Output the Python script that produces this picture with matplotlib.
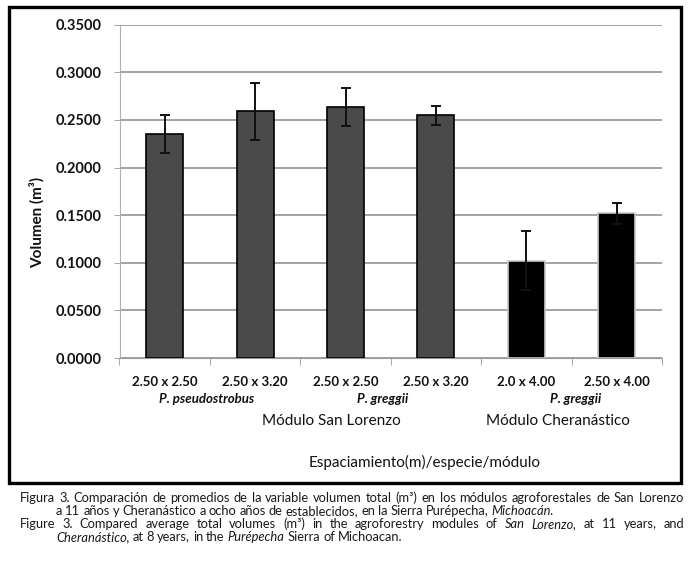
import numpy as np
import matplotlib
matplotlib.use("Agg")
import matplotlib.pyplot as plt
from matplotlib.patches import Rectangle

plt.rcParams["font.family"] = ["Lato", "DejaVu Sans"]

# datos
categorias = ["2.50 x 2.50", "2.50 x 3.20", "2.50 x 2.50", "2.50 x 3.20", "2.0 x 4.00", "2.50 x 4.00"]
volumen = [0.235, 0.259, 0.264, 0.255, 0.102, 0.152]
error = [0.020, 0.030, 0.020, 0.010, 0.031, 0.011]
modulo = ["San Lorenzo"] * 4 + ["Cheranástico"] * 2
y_ticks = [0.0, 0.05, 0.10, 0.15, 0.20, 0.25, 0.30, 0.35]

W, H = 696, 574
fig = plt.figure(figsize=(W / 100, H / 100), dpi=100)


def fx(px):
    return px / W


def fy(py):
    return 1 - py / H


# marco exterior
fig.patches.append(Rectangle((fx(9), fy(483)), fx(681) - fx(9), fy(7) - fy(483),
                             transform=fig.transFigure, fill=False,
                             edgecolor="black", linewidth=2.4))

ax = fig.add_axes([fx(119.5), fy(358), fx(662) - fx(119.5), fy(24.7) - fy(358)])

colores = ["#4a4a4a" if m == "San Lorenzo" else "black" for m in modulo]
bordes = ["black" if m == "San Lorenzo" else "#c8c8c8" for m in modulo]
x = np.arange(len(categorias))
ax.bar(x, volumen, width=0.41, color=colores, edgecolor=bordes, linewidth=1.2, zorder=3)
ax.errorbar(x, volumen, yerr=error, fmt="none", ecolor="#111111", elinewidth=1.4,
            capsize=3.5, capthick=1.4, zorder=4)

ax.set_xlim(-0.5, len(categorias) - 0.5)
ax.set_ylim(0, 0.35)
ax.set_yticks(y_ticks)
ax.set_yticklabels([f"{v:.4f}" for v in y_ticks], fontsize=10.5, fontweight="bold", color="#111111")
ax.yaxis.grid(True, color="#8a8a8a", linewidth=1.1, zorder=0)
ax.tick_params(axis="y", length=4, color="#aaaaaa", pad=9)

ax.set_xticks(x)
ax.set_xticklabels(categorias, fontsize=9.5, fontweight="bold", color="#111111")
ax.tick_params(axis="x", length=0, pad=13)
ax.set_xticks(np.arange(-0.5, len(categorias)), minor=True)
ax.tick_params(axis="x", which="minor", length=5, color="#999999")

for lado in ["top", "right"]:
    ax.spines[lado].set_visible(False)
ax.spines["left"].set_color("#b0b0b0")
ax.spines["bottom"].set_color("#999999")

ax.set_ylabel("Volumen (m³)", fontsize=11, fontweight="bold", color="#111111")
ax.yaxis.set_label_coords(-(119.5 - 45) / (662 - 119.5), (358 - 222) / (358 - 24.7))

# especies y modulos bajo el eje
tr = fig.transFigure
fig.text(fx(207), fy(399), "P. pseudostrobus", transform=tr, ha="center", va="center",
         fontsize=9.5, fontweight="bold", fontstyle="italic", color="#111111")
fig.text(fx(383), fy(399), "P. greggii", transform=tr, ha="center", va="center",
         fontsize=9.5, fontweight="bold", fontstyle="italic", color="#111111")
fig.text(fx(576), fy(399), "P. greggii", transform=tr, ha="center", va="center",
         fontsize=9.5, fontweight="bold", fontstyle="italic", color="#111111")
fig.text(fx(331), fy(421), "Módulo San Lorenzo", transform=tr, ha="center", va="center",
         fontsize=11, color="#111111")
fig.text(fx(558), fy(421), "Módulo Cheranástico", transform=tr, ha="center", va="center",
         fontsize=11, color="#111111")
fig.text(fx(425), fy(462), "Espaciamiento(m)/especie/módulo", transform=tr, ha="center",
         va="center", fontsize=11, color="#111111")

# pie de figura (palabras colocadas una por una para justificar)
fig.canvas.draw()
renderer = fig.canvas.get_renderer()
cap_font = dict(family=["Lato", "DejaVu Sans"], fontsize=9.3, color="#1a1a1a")


def linea(segmentos, x0, x1, ypx, justificar=True):
    palabras = []
    for txt, ital in segmentos:
        for p in txt.split():
            palabras.append((p, ital))
    objs = []
    for p, ital in palabras:
        t = fig.text(0, fy(ypx), p, transform=tr, va="center", ha="left",
                     fontstyle="italic" if ital else "normal", **cap_font)
        objs.append(t)
    anchos = [t.get_window_extent(renderer).width for t in objs]
    if justificar and len(objs) > 1:
        esp = (x1 - x0 - sum(anchos)) / (len(objs) - 1)
    else:
        esp = 3.0
    xpos = x0
    for t, w in zip(objs, anchos):
        t.set_x(fx(xpos))
        xpos += w + esp


linea([("Figura 3. Comparación de promedios de la variable volumen total (m³) en los módulos "
        "agroforestales de San Lorenzo", False)], 20, 684, 498)
linea([("a 11 años y Cheranástico a ocho años de establecidos, en la Sierra Purépecha,", False),
       ("Michoacán.", True)], 56, 0, 511, justificar=False)
linea([("Figure 3. Compared average total volumes (m³) in the agroforestry modules of", False),
       ("San Lorenzo,", True), ("at 11 years, and", False)], 20, 684, 524)
linea([("Cheranástico,", True), ("at 8 years, in the", False), ("Purépecha", True),
       ("Sierra of Michoacan.", False)], 56, 0, 537, justificar=False)

fig.savefig("out.png", dpi=100)
